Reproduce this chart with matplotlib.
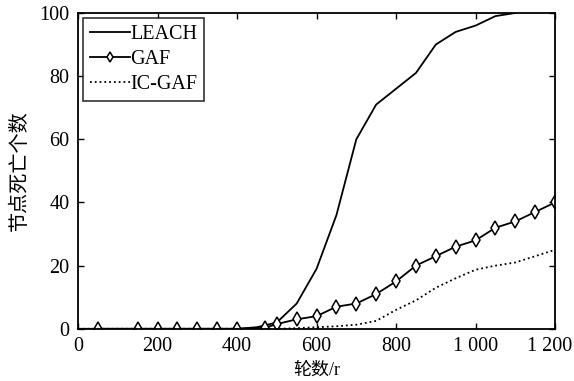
import matplotlib
matplotlib.use('Agg')
import matplotlib.pyplot as plt
import matplotlib.transforms as mtransforms
from matplotlib.ticker import FuncFormatter

plt.rcParams['font.family'] = ['Liberation Serif', 'Noto Sans CJK SC']

# rounds
leach_x = [0, 50, 100, 150, 200, 250, 300, 350, 400, 450, 500, 550, 600, 650, 700,
           750, 800, 850, 900, 950, 1000, 1050, 1100]
leach_y = [0, 0, 0, 0, 0, 0, 0, 0, 0, 0.5, 2, 8, 19, 36, 60,
           71, 76, 81, 90, 94, 96, 99, 100]

gaf_x = [50, 150, 200, 250, 300, 350, 400, 470, 500, 550, 600, 650, 700,
         750, 800, 850, 900, 950, 1000, 1050, 1100, 1150, 1200]
gaf_y = [0, 0, 0, 0, 0, 0, 0, 0.3, 1.5, 3, 4, 7, 8,
         11, 15, 20, 23, 26, 28, 32, 34, 37, 40]

icgaf_x = [0, 100, 200, 300, 400, 500, 550, 600, 650, 700, 750, 800, 850,
           900, 950, 1000, 1050, 1100, 1150, 1200]
icgaf_y = [0, 0, 0, 0, 0, 0, 0.2, 0.5, 0.8, 1.3, 2.5, 6, 9,
           13, 16, 18.7, 20, 21, 23, 25]

x_ticks = [0, 200, 400, 600, 800, 1000, 1200]
y_ticks = [0, 20, 40, 60, 80, 100]

fig = plt.figure(figsize=(5.74, 3.81), dpi=100)
ax = fig.add_axes([0.136, 0.137, 0.831, 0.829])

ax.plot(leach_x, leach_y, '-', color='black', lw=1.3, label='LEACH')
ax.plot(gaf_x, gaf_y, '-', color='black', lw=1.3, marker='d', ms=7,
        mfc='white', mec='black', mew=1.1, label='GAF')
ax.plot(icgaf_x, icgaf_y, ':', color='black', lw=1.3, label='IC-GAF')

ax.set_xlim(0, 1200)
ax.set_ylim(0, 100)
ax.set_xticks(x_ticks)
ax.set_yticks(y_ticks)
ax.xaxis.set_major_formatter(FuncFormatter(
    lambda v, p: '{:,}'.format(int(v)).replace(',', ' ')))
ax.tick_params(direction='in', top=True, right=True, length=4, width=1,
               labelsize=14.5, pad=6)
for s in ax.spines.values():
    s.set_linewidth(1.3)

# last x label sits a bit left so it stays inside the figure
shift = mtransforms.ScaledTranslation(-5 / 100, 0, fig.dpi_scale_trans)
lbl = ax.get_xticklabels()[-1]
lbl.set_transform(lbl.get_transform() + shift)

ax.set_xlabel('轮数/r', fontsize=13, labelpad=4)
ax.set_ylabel('节点死亡个数', fontsize=14.5, labelpad=7)

leg = ax.legend(loc='upper left', fontsize=14.5, frameon=True, fancybox=False,
                edgecolor='black', handlelength=2.0, handletextpad=0.0,
                borderpad=0.35, labelspacing=0.3, borderaxespad=0.25,
                markerscale=0.8)
leg.get_frame().set_linewidth(1.2)

fig.savefig('out.png', dpi=100)
